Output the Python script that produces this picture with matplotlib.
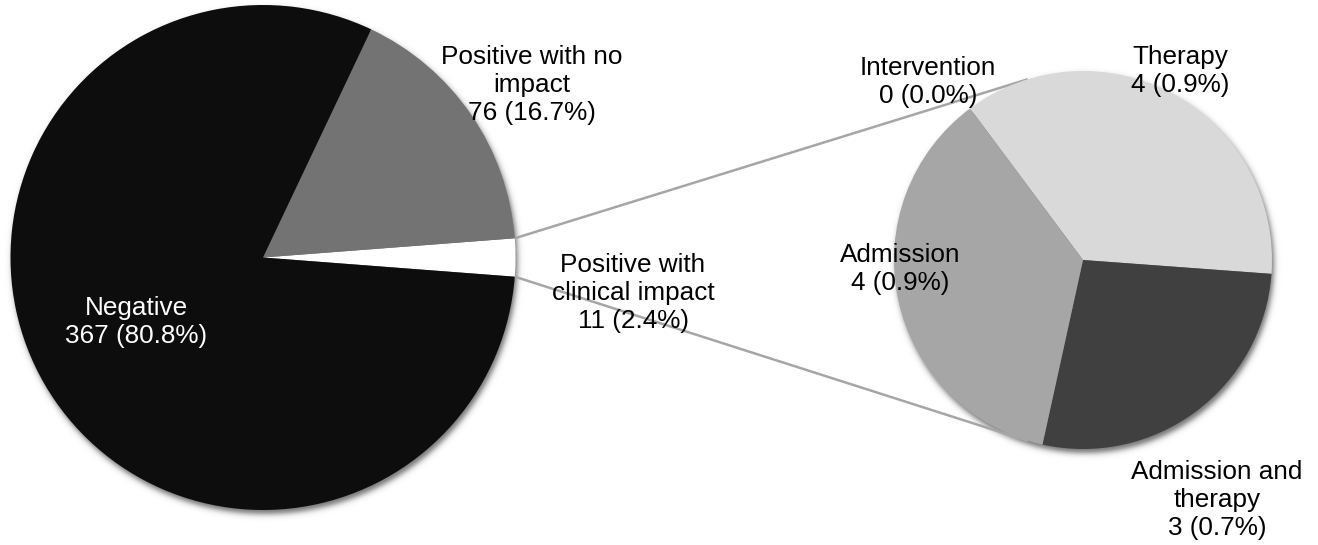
import numpy as np
import matplotlib
matplotlib.use("Agg")
import matplotlib.pyplot as plt

plt.rcParams['font.family'] = ['Liberation Sans', 'DejaVu Sans']

# Main breakdown of all results
main_labels = ["Positive with\nclinical impact", "Positive with no\nimpact", "Negative"]
main_counts = [11, 76, 367]
main_colors = ["#ffffff", "#737373", "#0d0d0d"]

# Breakdown of the clinically relevant positives
sub_labels = ["Therapy", "Admission and\ntherapy", "Admission", "Intervention"]
sub_counts = [4, 3, 4, 0]
sub_colors = ["#d9d9d9", "#404040", "#a6a6a6", "#808080"]

total = sum(main_counts)

W, H = 1318, 545
fig = plt.figure(figsize=(W / 100, H / 100), dpi=100)
ax = fig.add_axes([0, 0, 1, 1])

main_c, main_r = (263.0, 287.5), 252.5
sub_c, sub_r = (1083.0, 285.0), 189.0

# soft drop shadows behind the two pies
yy, xx = np.mgrid[0:H, 0:W]
ycoord = H - yy - 0.5
xcoord = xx + 0.5
alpha = np.zeros((H, W))
for (cx, cy), r in [(main_c, main_r), (sub_c, sub_r)]:
    d = np.hypot(xcoord - (cx + 2.0), ycoord - (cy - 4.0)) - r
    alpha = np.maximum(alpha, 0.55 * 0.5 * (1 - np.tanh(d / 3.5)))
rgba = np.zeros((H, W, 4))
rgba[..., 3] = alpha
ax.imshow(rgba, extent=(0, W, 0, H), origin="upper", zorder=0, interpolation="bilinear")

half = 180.0 * main_counts[0] / total
ax.pie(main_counts, colors=main_colors, startangle=-half, counterclock=True,
       center=main_c, radius=main_r, wedgeprops=dict(linewidth=0, zorder=2))
ax.pie(sub_counts, colors=sub_colors, startangle=126.7, counterclock=False,
       center=sub_c, radius=sub_r, wedgeprops=dict(linewidth=0, zorder=2))

# connector lines from the clinical-impact slice to the secondary pie
for sgn in (1, -1):
    a0 = np.radians(sgn * half)
    a1 = np.radians(180 - sgn * 73)
    x0 = main_c[0] + main_r * np.cos(a0)
    y0 = main_c[1] + main_r * np.sin(a0)
    x1 = sub_c[0] + sub_r * np.cos(a1)
    y1 = sub_c[1] + sub_r * np.sin(a1)
    ax.plot([x0, x1], [y0, y1], color="#a6a6a6", lw=1.8, zorder=1, solid_capstyle="butt")

def fmt(name, n):
    return f"{name}\n{n} ({n / total * 100:.1f}%)"

fs = 18.8
tk = dict(ha="center", va="center", fontsize=fs, linespacing=1.2, zorder=5)
main_pos = [(633, H - 293), (532, H - 85), (136, H - 322)]
main_txt_colors = ["#000000", "#000000", "#ffffff"]
for lab, n, (x, y), c in zip(main_labels, main_counts, main_pos, main_txt_colors):
    ax.text(x, y, fmt(lab, n), color=c, **tk)

sub_pos = [(1180, H - 71), (1217, H - 500), (900, H - 269), (928, H - 82)]
for lab, n, (x, y) in zip(sub_labels, sub_counts, sub_pos):
    ax.text(x, y, fmt(lab, n), color="#000000", **tk)

ax.set_xlim(0, W)
ax.set_ylim(0, H)
ax.set_aspect("equal")
ax.axis("off")

fig.savefig("out.png", dpi=100, facecolor="white")
